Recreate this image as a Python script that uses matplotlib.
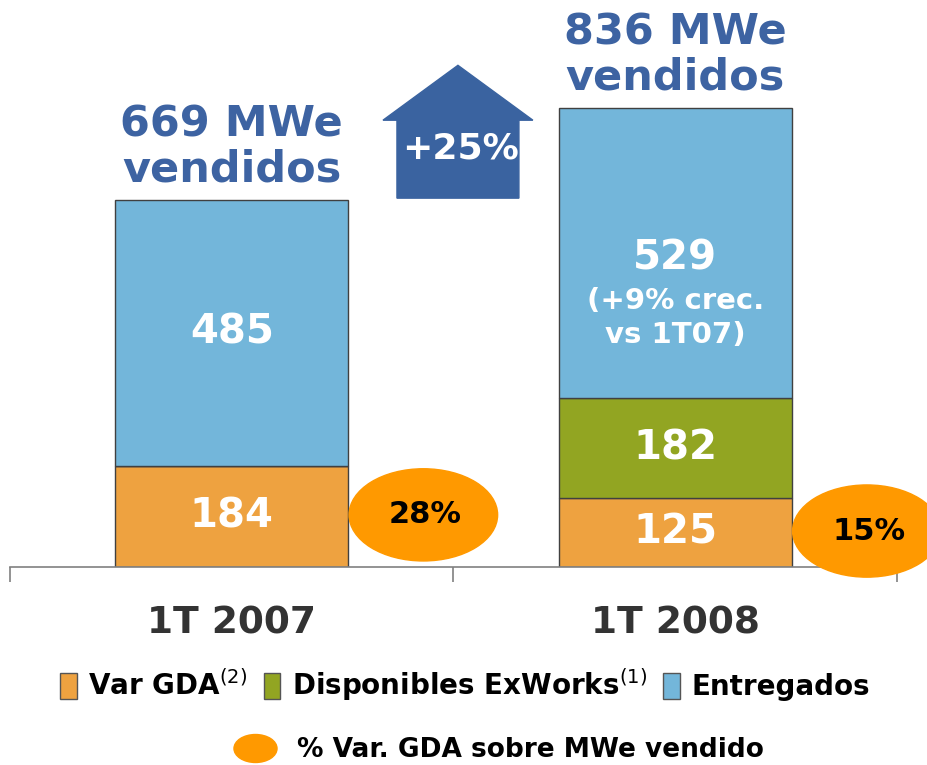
import matplotlib.pyplot as plt
from matplotlib.patches import Ellipse, Polygon, Patch
from matplotlib.lines import Line2D
from matplotlib.path import Path
from matplotlib.transforms import Affine2D
import numpy as np

# data
categories = ['1T 2007', '1T 2008']
var_gda = [184, 125]
exworks = [0, 182]
entregados = [485, 529]
pct_gda = [28, 15]
notes = ['', '(+9% crec.\nvs 1T07)']
series_labels = [r'Var GDA$^{\mathrm{(2)}}$',
                 r'Disponibles ExWorks$^{\mathrm{(1)}}$',
                 'Entregados']
pct_label = '% Var. GDA sobre MWe vendido'

c_gda = '#EEA240'
c_exw = '#92A522'
c_ent = '#73B6DA'
c_ell = '#FF9900'
c_blue = '#3D63A2'
edge = '#404040'

plt.rcParams['font.family'] = 'DejaVu Sans'
plt.rcParams['mathtext.fontset'] = 'dejavusans'

x = np.arange(len(categories))
gda = np.array(var_gda)
exw = np.array(exworks)
ent = np.array(entregados)
totals = gda + exw + ent

fig = plt.figure(figsize=(9.28, 7.65), dpi=100)
ax = fig.add_axes([10/928, 198/765, 887/928, 567/765])
ax.set_xlim(-0.5, 1.5)
ax.set_ylim(0, 1033)

w = 0.525
ax.bar(x, gda, w, color=c_gda, edgecolor=edge, lw=1, zorder=2)
ax.bar(x, exw, w, bottom=gda, color=c_exw, edgecolor=edge, lw=1, zorder=2)
ax.bar(x, ent, w, bottom=gda + exw, color=c_ent, edgecolor=edge, lw=1, zorder=2)

vfont = dict(color='white', fontsize=29, fontweight='bold', ha='center', va='center', zorder=4)
for i in x:
    ax.text(i, gda[i] / 2, str(gda[i]), **vfont)
    if exw[i] > 0:
        ax.text(i, gda[i] + exw[i] / 2, str(exw[i]), **vfont)
    mid = gda[i] + exw[i] + ent[i] / 2
    if notes[i]:
        ax.text(i, mid - 10, str(ent[i]), **vfont)
        ax.annotate(notes[i], xy=(i, mid - 10), xytext=(0, -20), textcoords='offset points',
                    color='white', fontsize=21, fontweight='bold', ha='center', va='top',
                    linespacing=1.3, zorder=4)
    else:
        ax.text(i, mid, str(ent[i]), **vfont)

    # totals above bars
    ax.annotate(f'{totals[i]} MWe\nvendidos', xy=(i, totals[i]), xytext=(0, 7),
                textcoords='offset points', ha='center', va='bottom', fontsize=31,
                fontweight='bold', color=c_blue, linespacing=1.08)

    # ellipse with % of GDA
    ex, ey = i + 0.432, gda[i] / 2 + 3
    ax.add_patch(Ellipse((ex, ey), 0.335, 168, color=c_ell, zorder=5, clip_on=False))
    ax.text(ex + 0.005, ey, f'{pct_gda[i]}%', fontsize=22, fontweight='bold',
            ha='center', va='center', color='black', zorder=6)

# growth arrow (house shape)
growth = round((totals[1] / totals[0] - 1) * 100)
cx = 0.51
bw, rw = 0.1375, 0.169
y0, yeave, ytip = totals[0] + 3, 814, 914
house = [(cx - bw, y0), (cx + bw, y0), (cx + bw, yeave), (cx + rw, yeave),
         (cx, ytip), (cx - rw, yeave), (cx - bw, yeave)]
ax.add_patch(Polygon(house, closed=True, color='#3A63A0', zorder=3))
ax.text(cx + 0.005, 763, f'+{growth}%', color='white', fontsize=26, fontweight='bold',
        ha='center', va='center', zorder=4)

# axis styling
for s in ['top', 'right', 'left']:
    ax.spines[s].set_visible(False)
ax.spines['bottom'].set_color('#808080')
ax.spines['bottom'].set_linewidth(1.2)
ax.set_yticks([])
ax.set_xticks(x, categories)
ax.set_xticks([-0.5, 0.5, 1.5], minor=True)
ax.tick_params(axis='x', which='major', length=0, pad=28, labelsize=27, labelcolor='#333333')
ax.tick_params(axis='x', which='minor', length=11, width=1.2, color='#808080')
for lbl in ax.get_xticklabels():
    lbl.set_fontweight('bold')

# legends
handles = [Patch(facecolor=c, edgecolor='#555555', lw=1) for c in (c_gda, c_exw, c_ent)]
fig.legend(handles, series_labels, ncol=3, loc='center',
           bbox_to_anchor=(465/928, 1 - 685/765), frameon=False,
           prop={'weight': 'bold', 'size': 20}, handlelength=0.6, handleheight=1.1,
           handletextpad=0.4, columnspacing=0.6, borderpad=0)

ell_marker = Path.unit_circle().transformed(Affine2D().scale(1, 0.65))
h2 = Line2D([], [], marker=ell_marker, markersize=31, color=c_ell, linestyle='none')
fig.legend([h2], [pct_label], loc='center', bbox_to_anchor=(500/928, 1 - 750/765),
           frameon=False, prop={'weight': 'bold', 'size': 19}, handlelength=1.4,
           handletextpad=0.9, borderpad=0)

fig.savefig('out.png', dpi=100)
